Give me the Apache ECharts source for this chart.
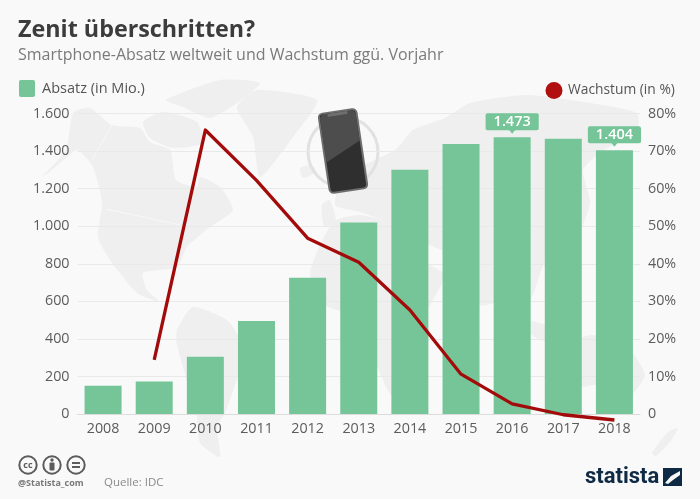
<!DOCTYPE html>
<html>
<head>
<meta charset="utf-8">
<script src="https://cdn.jsdelivr.net/npm/echarts@6/dist/echarts.min.js"></script>
<style>
html, body { margin: 0; padding: 0; background: #f9f9f9; }
#chart { width: 700px; height: 499px; }
</style>
</head>
<body>
<div id="chart"></div>
<script>
var years = ['2008', '2009', '2010', '2011', '2012', '2013', '2014', '2015', '2016', '2017', '2018'];
var absatz = [151, 173, 305, 495, 725, 1019, 1301, 1437, 1473, 1465, 1404];
var wachstum = [null, 14.4, 75.6, 62.2, 46.8, 40.4, 27.7, 10.6, 2.7, -0.2, -1.6];
var absatzTicks = 200;
var wachstumTicks = 10;
var labelled = ['2016', '2018'];

var FONT = '"Open Sans", sans-serif';
var GREEN = '#75c598';
var RED = '#a30b0b';
var MAP = '#efefef';

// Weltkarte im Hintergrund, grob nachgezeichnet
var land = [
  // Nordamerika
  [[73,113],[90,108],[112,125],[140,128],[150,142],[170,150],[176,180],[197,187],[200,177],[220,187],[233,210],[210,227],[187,247],[177,267],[143,273],[147,290],[160,302],[137,293],[110,260],[98,237],[102,203],[93,167],[77,150],[58,165],[42,177],[66,150]],
  // arktische Inseln
  [[143,122],[163,112],[197,122],[203,143],[173,148],[150,138]],
  [[166,100],[220,80],[260,83],[237,103],[210,118],[183,107]],
  // Groenland
  [[237,107],[257,90],[317,100],[293,137],[260,177],[253,137]],
  // Suedamerika
  [[177,330],[193,307],[227,320],[240,340],[238,375],[225,413],[217,427],[220,457],[200,443],[197,417],[177,345]],
  // Europa und Asien
  [[335,205],[345,175],[395,150],[413,130],[445,118],[470,103],[527,95],[590,103],[637,113],[637,130],[600,153],[583,170],[590,203],[575,240],[545,262],[530,300],[505,300],[480,305],[460,260],[430,245],[395,225],[360,212]],
  // Afrika
  [[333,222],[360,215],[395,225],[425,262],[445,275],[425,315],[412,365],[392,395],[375,360],[365,312],[345,312],[325,305],[310,273]],
  // Australien und Neuseeland
  [[560,350],[590,335],[625,345],[645,375],[625,400],[595,385],[565,390]],
  [[652,453],[668,432],[678,428],[670,442],[656,456]],
  // Island, Grossbritannien, Indonesien
  [[300,168],[312,165],[316,172],[303,178]],
  [[322,205],[330,200],[336,222],[324,226]],
  [[515,318],[545,325],[570,338],[540,340]]
];
// Grenzen als helle Linien
var borders = [
  [[112,125],[92,160]],
  [[106,209],[180,225]]
];

function mapPolys() {
  var polys = land.map(function (pts) {
    return {type: 'polygon', silent: true, z: -10, shape: {points: pts, smooth: 0.2}, style: {fill: MAP}};
  });
  var lines = borders.map(function (pts) {
    return {type: 'polyline', silent: true, z: -9, shape: {points: pts}, style: {stroke: '#f8f8f8', lineWidth: 1, fill: 'none'}};
  });
  return polys.concat(lines);
}

// Smartphone-Symbol
function phone() {
  return {
    type: 'group', x: 343, y: 151, rotation: 0.147, silent: true,
    children: [
      {type: 'rect', z: 20, shape: {x: -20, y: -41, width: 40, height: 82, r: 5}, style: {fill: '#6e6e6e'}},
      {type: 'rect', z: 21, shape: {x: -18, y: -39, width: 36, height: 78, r: 3}, style: {fill: '#2f2f2f'}},
      {type: 'polygon', z: 22, shape: {points: [[-18, -36], [-15, -39], [15, -39], [18, -36], [18, -8], [-18, 9]]}, style: {fill: '#4d4d4d'}},
      {type: 'rect', z: 23, shape: {x: -10, y: -39, width: 20, height: 3, r: 1}, style: {fill: '#6e6e6e'}}
    ]
  };
}

function ring(x) {
  return {type: 'circle', shape: {cx: x, cy: 465, r: 8.7}, style: {fill: 'none', stroke: '#5c5c5c', lineWidth: 2}};
}

function ccIcons() {
  return [
    ring(28), ring(52), ring(76),
    {type: 'text', style: {x: 28, y: 465, text: 'cc', font: 'bold 9px ' + FONT, fill: '#5c5c5c', align: 'center', verticalAlign: 'middle'}},
    {type: 'circle', shape: {cx: 52, cy: 460, r: 1.7}, style: {fill: '#5c5c5c'}},
    {type: 'rect', shape: {x: 49.5, y: 462.5, width: 5, height: 8, r: 1}, style: {fill: '#5c5c5c'}},
    {type: 'rect', shape: {x: 72, y: 462, width: 8, height: 2}, style: {fill: '#5c5c5c'}},
    {type: 'rect', shape: {x: 72, y: 466, width: 8, height: 2}, style: {fill: '#5c5c5c'}}
  ];
}

function fmt(v) {
  return String(v).replace(/(\d)(\d{3})$/, '$1.$2');
}

var chart = echarts.init(document.getElementById('chart'));
var graphics = mapPolys().concat([
  {type: 'circle', silent: true, z: -5, shape: {cx: 343, cy: 152, r: 35}, style: {fill: 'none', stroke: '#e1e1e1', lineWidth: 3}},
  phone(),
  {type: 'text', style: {x: 18, y: 30, text: 'Zenit überschritten?', font: 'bold 23.3px ' + FONT, fill: '#3c3c3c', verticalAlign: 'middle'}},
  {type: 'text', style: {x: 18, y: 55, text: 'Smartphone-Absatz weltweit und Wachstum ggü. Vorjahr', font: '16px ' + FONT, fill: '#7a7a7a', verticalAlign: 'middle'}},
  {type: 'rect', shape: {x: 19, y: 80, width: 16, height: 17, r: 2}, style: {fill: GREEN}},
  {type: 'text', style: {x: 42, y: 89, text: 'Absatz (in Mio.)', font: '14.5px ' + FONT, fill: '#555', verticalAlign: 'middle'}},
  {type: 'circle', shape: {cx: 554, cy: 90.5, r: 8.5}, style: {fill: '#b01010'}},
  {type: 'text', style: {x: 568, y: 90, text: 'Wachstum (in %)', font: '13.8px ' + FONT, fill: '#555', verticalAlign: 'middle'}},
  {type: 'text', style: {x: 18, y: 483, text: '@Statista_com', font: 'bold 9px ' + FONT, fill: '#777', verticalAlign: 'middle'}},
  {type: 'text', style: {x: 104, y: 483, text: 'Quelle: IDC', font: '11.5px ' + FONT, fill: '#8a8a8a', verticalAlign: 'middle'}},
  {type: 'text', style: {x: 585, y: 477, text: 'statista', font: 'bold 22px "Roboto", sans-serif', fill: '#0f2a45', verticalAlign: 'middle'}},
  {type: 'polygon', shape: {points: [[663, 468], [682, 468], [682, 486], [663, 486]]}, style: {fill: '#0f2a45'}},
  {type: 'polygon', shape: {points: [[665, 483], [671, 476], [680, 471], [680, 475], [673, 480], [668, 484]]}, style: {fill: '#f9f9f9'}}
]).concat(ccIcons());

// kleine Spitze unter den Wertelabels
var pointers = labelled.map(function (y) {
  return {coord: [y, absatz[years.indexOf(y)]], symbol: 'triangle', symbolRotate: 180, symbolSize: [8, 5], symbolOffset: [0, -6]};
});

chart.setOption({
  animation: false,
  backgroundColor: '#f9f9f9',
  textStyle: {fontFamily: FONT},
  graphic: graphics,
  grid: {left: 77.5, right: 60, top: 113.5, bottom: 85},
  xAxis: {
    type: 'category',
    data: years,
    axisTick: {show: false},
    axisLine: {lineStyle: {color: '#dcdcdc', width: 1}},
    axisLabel: {color: '#5c5c5c', fontSize: 14.3, margin: 8}
  },
  yAxis: [
    {
      type: 'value', min: 0, max: 1600, interval: absatzTicks,
      axisLine: {show: false}, axisTick: {show: false},
      splitLine: {lineStyle: {color: '#e9e9e9', width: 1}},
      axisLabel: {color: '#5c5c5c', fontSize: 14.3, margin: 8, formatter: function (v) { return fmt(v); }}
    },
    {
      type: 'value', min: 0, max: 80, interval: wachstumTicks,
      axisLine: {show: false}, axisTick: {show: false}, splitLine: {show: false},
      axisLabel: {
        color: '#5c5c5c', fontSize: 14.3, margin: 8,
        formatter: function (v) { return v === 0 ? '0' : v + '%'; }
      }
    }
  ],
  series: [
    {
      type: 'bar',
      name: 'Absatz (in Mio.)',
      barWidth: 37,
      itemStyle: {color: GREEN},
      markPoint: {silent: true, label: {show: false}, itemStyle: {color: GREEN}, data: pointers},
      data: absatz.map(function (v, i) {
        return {
          value: v,
          label: {
            show: labelled.indexOf(years[i]) >= 0,
            position: 'top',
            distance: 7,
            formatter: fmt(v),
            color: '#fff',
            fontSize: 14.5,
            fontWeight: 600,
            backgroundColor: GREEN,
            borderRadius: 2,
            padding: [1, 8, 1, 8]
          }
        };
      })
    },
    {
      type: 'line',
      name: 'Wachstum (in %)',
      yAxisIndex: 1,
      data: wachstum,
      clip: false,
      showSymbol: false,
      symbol: 'none',
      z: 5,
      lineStyle: {color: RED, width: 3.3, join: 'round', cap: 'butt'}
    }
  ]
});
</script>
</body>
</html>
